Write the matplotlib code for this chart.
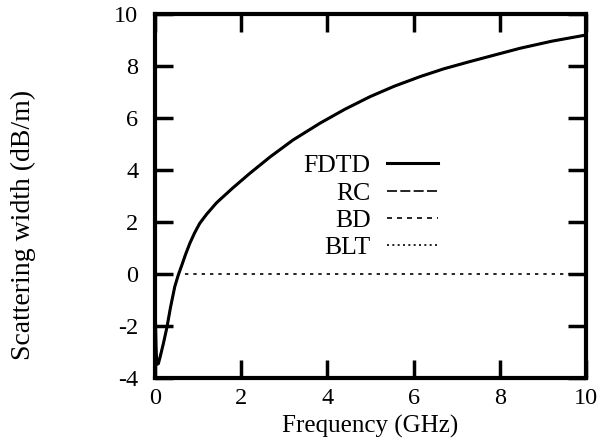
import matplotlib.pyplot as plt

plt.rcParams['font.family'] = ['Liberation Serif', 'DejaVu Serif']
plt.rcParams['axes.unicode_minus'] = False

# values (frequency in GHz, scattering width in dB/m)
freq = [0.01, 0.03, 0.05, 0.08, 0.12, 0.2, 0.28, 0.36, 0.46, 0.54, 0.62,
        0.71, 0.81, 0.92, 1.04, 1.2, 1.43, 1.8, 2.2, 2.67, 3.2, 3.83,
        4.4, 4.99, 5.55, 6.15, 6.7, 7.31, 7.9, 8.47, 9.2, 10.0]
fdtd = [-1.5, -3.0, -3.45, -3.45, -3.2, -2.65, -2.04, -1.3, -0.49, -0.05, 0.32,
        0.75, 1.18, 1.58, 1.95, 2.3, 2.74, 3.3, 3.87, 4.5, 5.15, 5.8,
        6.33, 6.82, 7.22, 7.59, 7.89, 8.17, 8.43, 8.68, 8.95, 9.19]
rc = [-1.1, -2.8, -3.4, -3.45, -3.2, -2.65, -2.04, -1.3, -0.49, -0.05, 0.32,
      0.75, 1.18, 1.58, 1.95, 2.3, 2.74, 3.3, 3.87, 4.5, 5.15, 5.8,
      6.33, 6.82, 7.22, 7.59, 7.89, 8.17, 8.43, 8.68, 8.95, 9.19]
bd = [-1.9, -3.2, -3.5, -3.4, -3.15, -2.65, -2.04, -1.3, -0.49, -0.05, 0.32,
      0.75, 1.18, 1.58, 1.95, 2.3, 2.74, 3.3, 3.87, 4.5, 5.15, 5.8,
      6.33, 6.82, 7.22, 7.59, 7.89, 8.17, 8.43, 8.68, 8.95, 9.19]
blt = [-1.3, -2.9, -3.45, -3.45, -3.2, -2.65, -2.04, -1.3, -0.49, -0.05, 0.32,
       0.75, 1.18, 1.58, 1.95, 2.3, 2.74, 3.3, 3.87, 4.5, 5.15, 5.8,
       6.33, 6.82, 7.22, 7.59, 7.89, 8.17, 8.43, 8.68, 8.95, 9.19]
labels = ['FDTD', 'RC', 'BD', 'BLT']
xticks = [0, 2, 4, 6, 8, 10]
yticks = [-4, -2, 0, 2, 4, 6, 8, 10]

fig = plt.figure(figsize=(6.05, 4.48), dpi=100)
ax = fig.add_axes([0.256, 0.156, 0.713, 0.813])

ax.plot(freq, fdtd, color='k', lw=2.2, linestyle='-', label=labels[0])
ax.plot(freq, rc, color='k', lw=1.2, linestyle=(0, (6, 2)), label=labels[1])
ax.plot(freq, bd, color='k', lw=1.2, linestyle=(0, (3, 3)), label=labels[2])
ax.plot(freq, blt, color='k', lw=1.2, linestyle=(0, (1.2, 2)), label=labels[3])

# zero axis
ax.axhline(0, xmin=0.07, color='k', lw=1.2, linestyle=(0, (2, 3)))

ax.set_xlim(0, 10)
ax.set_ylim(-4, 10)
ax.set_xticks(xticks)
ax.set_yticks(yticks)
ax.set_xlabel('Frequency (GHz)', fontsize=18)
ax.xaxis.set_label_coords(0.5, -0.102)
ax.set_ylabel('Scattering width (dB/m)', fontsize=20)
ax.yaxis.set_label_coords(-0.275, 0.42)

for s in ax.spines.values():
    s.set_linewidth(3)
ax.tick_params(direction='in', length=13, width=2.5, top=True, right=True,
               labelsize=17.5)
ax.tick_params(axis='x', pad=7)
ax.tick_params(axis='y', pad=12)

leg = ax.legend(loc='center', bbox_to_anchor=(0.50, 0.47), frameon=False,
                markerfirst=False, fontsize=18.5, handlelength=1.95,
                labelspacing=0.17, handletextpad=0.66, borderaxespad=0,
                borderpad=0)
leg._legend_box.align = 'right'
for t in leg.get_texts():
    t.set_ha('right')

fig.savefig('out.png', dpi=100)
